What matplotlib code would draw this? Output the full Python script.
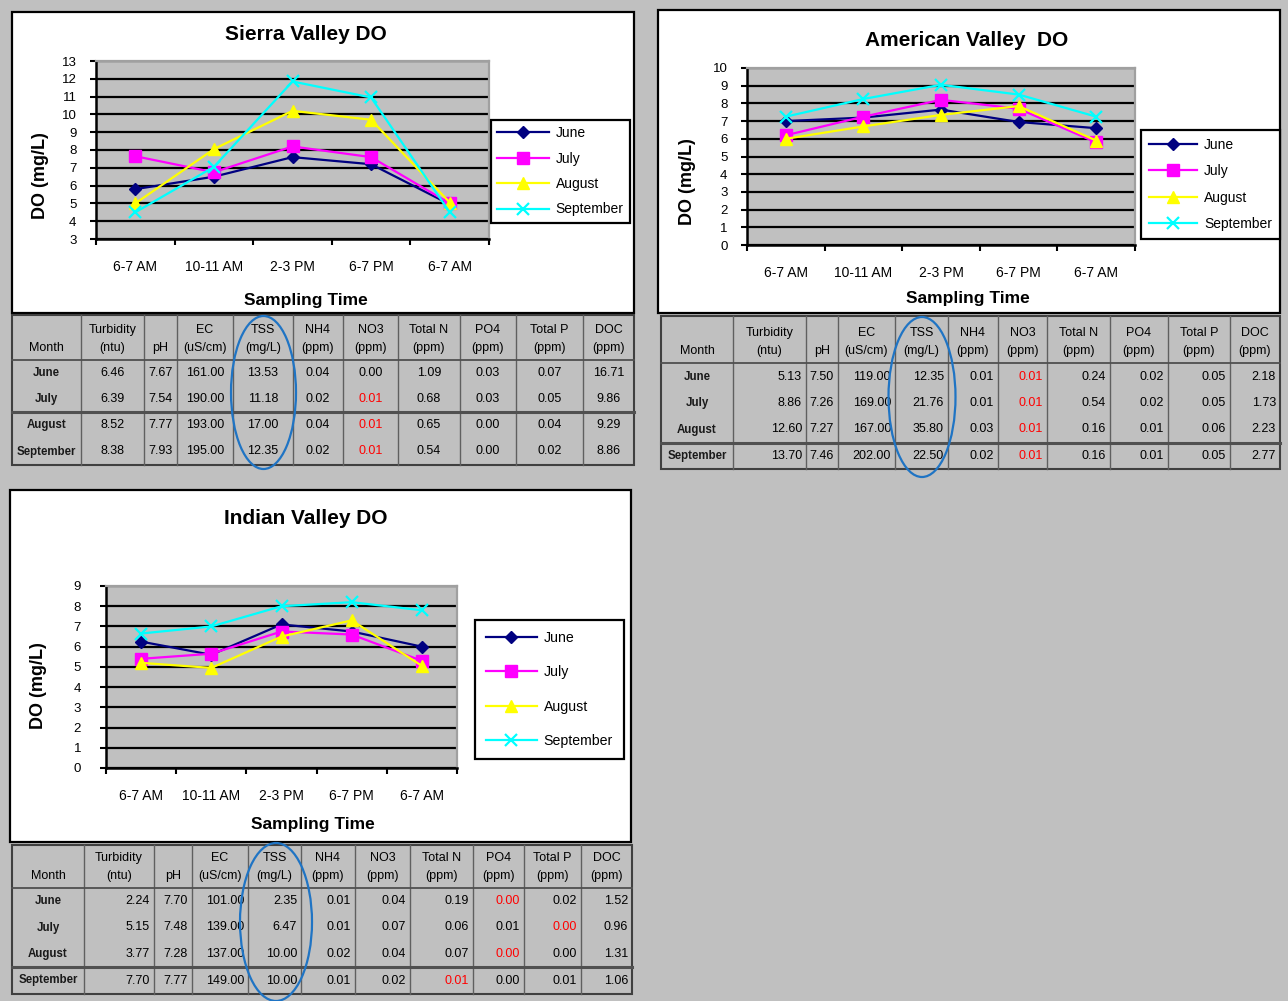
import matplotlib
matplotlib.use('Agg')
import matplotlib.pyplot as plt
from matplotlib.patches import Rectangle, Ellipse

plt.rcParams['font.family'] = ['Liberation Sans', 'DejaVu Sans']

W, H = 1288, 1001

# ---- chart data (DO, mg/L) ----
times = ['6-7 AM', '10-11 AM', '2-3 PM', '6-7 PM', '6-7 AM']
months = ['June', 'July', 'August', 'September']

sierra_june = [5.8, 6.5, 7.6, 7.2, 4.95]
sierra_july = [7.65, 6.75, 8.2, 7.6, 5.0]
sierra_august = [5.0, 8.05, 10.2, 9.7, 5.05]
sierra_september = [4.5, 7.05, 11.85, 10.95, 4.5]

american_june = [7.0, 7.2, 7.65, 6.95, 6.6]
american_july = [6.2, 7.25, 8.2, 7.7, 5.8]
american_august = [6.0, 6.7, 7.35, 7.85, 5.9]
american_september = [7.25, 8.25, 9.05, 8.5, 7.25]

indian_june = [6.25, 5.6, 7.1, 6.75, 6.0]
indian_july = [5.4, 5.65, 6.75, 6.6, 5.3]
indian_august = [5.2, 4.95, 6.5, 7.3, 5.05]
indian_september = [6.65, 7.0, 8.0, 8.2, 7.8]

# ---- water quality tables ----
table_headers = ['Month', 'Turbidity\n(ntu)', 'pH', 'EC\n(uS/cm)', 'TSS\n(mg/L)', 'NH4\n(ppm)',
                 'NO3\n(ppm)', 'Total N\n(ppm)', 'PO4\n(ppm)', 'Total P\n(ppm)', 'DOC\n(ppm)']

sierra_table = [
    [6.46, 7.67, 161.00, 13.53, 0.04, 0.00, 1.09, 0.03, 0.07, 16.71],
    [6.39, 7.54, 190.00, 11.18, 0.02, 0.01, 0.68, 0.03, 0.05, 9.86],
    [8.52, 7.77, 193.00, 17.00, 0.04, 0.01, 0.65, 0.00, 0.04, 9.29],
    [8.38, 7.93, 195.00, 12.35, 0.02, 0.01, 0.54, 0.00, 0.02, 8.86],
]
sierra_red = [(1, 5), (2, 5), (3, 5)]

american_table = [
    [5.13, 7.50, 119.00, 12.35, 0.01, 0.01, 0.24, 0.02, 0.05, 2.18],
    [8.86, 7.26, 169.00, 21.76, 0.01, 0.01, 0.54, 0.02, 0.05, 1.73],
    [12.60, 7.27, 167.00, 35.80, 0.03, 0.01, 0.16, 0.01, 0.06, 2.23],
    [13.70, 7.46, 202.00, 22.50, 0.02, 0.01, 0.16, 0.01, 0.05, 2.77],
]
american_red = [(0, 5), (1, 5), (2, 5), (3, 5)]

indian_table = [
    [2.24, 7.70, 101.00, 2.35, 0.01, 0.04, 0.19, 0.00, 0.02, 1.52],
    [5.15, 7.48, 139.00, 6.47, 0.01, 0.07, 0.06, 0.01, 0.00, 0.96],
    [3.77, 7.28, 137.00, 10.00, 0.02, 0.04, 0.07, 0.00, 0.00, 1.31],
    [7.70, 7.77, 149.00, 10.00, 0.01, 0.02, 0.01, 0.00, 0.01, 1.06],
]
indian_red = [(0, 7), (1, 8), (2, 7), (3, 6)]

series_style = {
    'June': dict(color='#000080', marker='D', ms=6.5),
    'July': dict(color='#ff00ff', marker='s', ms=8.5),
    'August': dict(color='#ffff00', marker='^', ms=9),
    'September': dict(color='#00ffff', marker='x', ms=8, mew=1.6),
}

GRAY = '#c0c0c0'


def frac(x0, y0, x1, y1):
    return [x0 / W, 1 - y1 / H, (x1 - x0) / W, (y1 - y0) / H]


def draw_chart(fig, bg, box, plot, title, title_xy, ylab_xy, xlab_xy, series,
               ylim, ypad, leg_xy, leg_opts):
    bg.add_patch(Rectangle((box[0], box[1]), box[2] - box[0], box[3] - box[1],
                           facecolor='white', edgecolor='black', lw=1.6, zorder=1))
    bg.text(*title_xy, title, ha='center', va='center', fontsize=15, fontweight='bold')
    bg.text(*xlab_xy, 'Sampling Time', ha='center', va='center', fontsize=12.5, fontweight='bold')
    bg.text(*ylab_xy, 'DO (mg/L)', ha='center', va='center', rotation=90,
            fontsize=13, fontweight='bold')

    ax = fig.add_axes(frac(*plot))
    ax.set_facecolor(GRAY)
    x = list(range(len(times)))
    for name, vals in zip(months, series):
        ax.plot(x, vals, lw=1.6, label=name, **series_style[name])
    ax.set_xlim(-0.5, len(times) - 0.5)
    ax.set_ylim(*ylim)
    ax.set_yticks(range(ylim[0], ylim[1] + 1))
    ax.set_xticks([i - 0.5 for i in range(len(times) + 1)])
    ax.set_xticklabels([])
    ax.set_xticks(x, minor=True)
    ax.set_xticklabels(times, minor=True, fontsize=10)
    ax.tick_params(axis='x', which='minor', length=0, pad=15)
    ax.tick_params(axis='x', which='major', length=4, width=1.5, direction='out')
    ax.tick_params(axis='y', length=4, width=1.5, direction='out', pad=ypad, labelsize=9.5)
    ax.yaxis.grid(True, color='black', lw=1.6)
    for s in ['left', 'bottom']:
        ax.spines[s].set_linewidth(1.8)
        ax.spines[s].set_color('black')
    for s in ['top', 'right']:
        ax.spines[s].set_linewidth(1.6)
        ax.spines[s].set_color('#a0a0a0')

    opts = dict(fontsize=10, handlelength=3.7, handletextpad=0.5, labelspacing=0.8,
                borderpad=0.45)
    opts.update(leg_opts)
    leg = ax.legend(loc='upper left', bbox_to_anchor=(leg_xy[0] / W, 1 - leg_xy[1] / H),
                    bbox_transform=fig.transFigure, borderaxespad=0,
                    fancybox=False, framealpha=1, edgecolor='black', **opts)
    leg.get_frame().set_linewidth(1.6)
    return ax


def draw_table(bg, cols, rows, values, red, align, thick_row):
    x0, x1 = cols[0], cols[-1]
    y0, y1 = rows[0], rows[-1]
    bg.add_patch(Rectangle((x0, y0), x1 - x0, y1 - y0, facecolor=GRAY,
                           edgecolor='#404040', lw=1.5, zorder=1))
    for c in cols[1:-1]:
        bg.plot([c, c], [y0, y1], color='#606060', lw=1.0, zorder=2)
    bg.plot([x0, x1], [rows[1], rows[1]], color='#505050', lw=1.3, zorder=2)
    bg.plot([x0, x1], [rows[thick_row], rows[thick_row]], color='#505050', lw=2.2, zorder=2)

    hb = rows[1]
    for i, head in enumerate(table_headers):
        cx = (cols[i] + cols[i + 1]) / 2
        lines = head.split('\n')
        if len(lines) == 2:
            bg.text(cx, hb - 30, lines[0], ha='center', va='center', fontsize=9, color='black')
            bg.text(cx, hb - 12, lines[1], ha='center', va='center', fontsize=9, color='black')
        else:
            bg.text(cx, hb - 12, lines[0], ha='center', va='center', fontsize=9, color='black')

    for r, (m, row) in enumerate(zip(months, values)):
        cy = (rows[r + 1] + rows[r + 2]) / 2
        bg.text((cols[0] + cols[1]) / 2, cy, m, ha='center', va='center', fontsize=8.3,
                fontweight='bold', color='#1a1a1a')
        for c, v in enumerate(row):
            color = 'red' if (r, c) in red else 'black'
            if align == 'center':
                tx, ha = (cols[c + 1] + cols[c + 2]) / 2, 'center'
            else:
                tx, ha = cols[c + 2] - 4, 'right'
            bg.text(tx, cy, f'{v:.2f}', ha=ha, va='center', fontsize=9, color=color)


fig = plt.figure(figsize=(W / 100, H / 100), dpi=100)
fig.patch.set_facecolor(GRAY)
bg = fig.add_axes([0, 0, 1, 1])
bg.set_xlim(0, W)
bg.set_ylim(H, 0)
bg.axis('off')

# Sierra Valley
draw_chart(fig, bg, (12, 12, 634, 313), (96, 61, 489, 239), 'Sierra Valley DO',
           (306, 34), (41, 176), (306, 301),
           [sierra_june, sierra_july, sierra_august, sierra_september],
           (3, 13), 10, (491, 120), dict(labelspacing=0.82))
draw_table(bg, [12, 81, 144, 177, 233, 293, 343, 398, 460, 516, 583, 634],
           [315, 360, 386, 412, 438, 465], sierra_table, sierra_red, 'center', 3)
bg.add_patch(Ellipse((263.5, 392.5), 65, 153, fill=False, edgecolor='#1f74c4', lw=1.6, zorder=5))

# American Valley
draw_chart(fig, bg, (658, 10, 1280, 313), (747, 68, 1135, 245), 'American Valley  DO',
           (967, 41), (688, 182), (968, 298),
           [american_june, american_july, american_august, american_september],
           (0, 10), 10, (1141, 130), dict(labelspacing=0.9, borderpad=0.55, handlelength=3.5))
draw_table(bg, [661, 733, 806, 838, 895, 948, 998, 1047, 1110, 1168, 1230, 1280],
           [316, 363, 390, 416, 443, 469], american_table, american_red, 'right', 4)
bg.add_patch(Ellipse((922, 397), 67, 160, fill=False, edgecolor='#1f74c4', lw=1.6, zorder=5))

# Indian Valley
draw_chart(fig, bg, (10, 490, 631, 842), (106, 586, 457, 768), 'Indian Valley DO',
           (306, 519), (39, 686), (313, 824),
           [indian_june, indian_july, indian_august, indian_september],
           (0, 9), 14, (475, 620),
           dict(fontsize=10.2, labelspacing=1.45, borderpad=0.75, handlelength=3.6, handletextpad=0.5))
draw_table(bg, [12, 84, 154, 192, 248, 301, 355, 410, 473, 524, 581, 632],
           [845, 888, 914, 941, 967, 994], indian_table, indian_red, 'right', 4)
bg.add_patch(Ellipse((276, 922), 72, 158, fill=False, edgecolor='#1f74c4', lw=1.6, zorder=5))

fig.savefig('out.png', dpi=100, facecolor=GRAY)
